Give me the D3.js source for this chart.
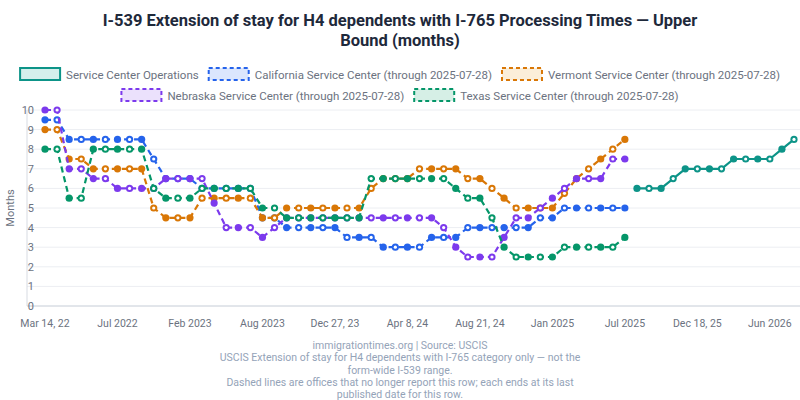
<!DOCTYPE html>
<html><head><meta charset="utf-8">
<script src="https://cdn.jsdelivr.net/npm/d3@7"></script>
<style>body{margin:0;background:#fff;font-family:Roboto,"Liberation Sans",sans-serif}</style>
</head><body><svg id="c" width="800" height="400"></svg>
<script>
const N = 63;
const tickIdx = [0,6,12,18,24,30,36,42,48,54,60];
const tickLabels = ["Mar 14, 22","Jul 2022","Feb 2023","Aug 2023","Dec 27, 23","Apr 8, 24","Aug 21, 24","Jan 2025","Jul 2025","Dec 18, 25","Jun 2026"];
const california = [9.5,9.5,8.5,8.5,8.5,8.5,8.5,8.5,8.5,7.5,6.5,6.5,6.5,6,6,6,6,6,4.5,4.5,4,4,4,4,4,3.5,3.5,3.5,3,3,3,3,3.5,3.5,3.5,4,4,4,4,4,4,4.5,4.5,5,5,5,5,5,5];
const vermont = [9,9,7.5,7.5,7,7,7,7,7,5,4.5,4.5,4.5,5.5,5.5,5.5,5.5,5.5,4.5,4.5,5,5,5,5,5,5,5,6,6.5,6.5,6.5,7,7,7,7,6.5,6.5,6,5.5,5,5,5,5,5.75,6.5,7,7.5,8,8.5];
const nebraska = [10,10,7,7,6.5,6.5,6,6,6,6,6.5,6.5,6.5,6.5,5.25,4,4,4,3.5,4,4.5,4.5,4.5,4.5,4.5,4.5,4.5,4.5,4.5,4.5,4.5,4.5,4.5,4,3,2.5,2.5,2.5,3.5,4.5,4.5,5,5.5,6,6.5,6.5,6.5,7.5,7.5];
const texas = [8,8,5.5,5.5,8,8,8,8,8,6,5.5,5.5,5.5,6,6,6,6,6,5,5,4.5,4.5,4.5,4.5,4.5,4.5,4.5,6.5,6.5,6.5,6.5,6.5,6.5,6.5,6,5.5,5.5,4.5,3,2.5,2.5,2.5,2.5,3,3,3,3,3,3.5];
const serviceCenter = [6,6,6,6.5,7,7,7,7,7.5,7.5,7.5,7.5,8,8.5];
const scStart = 49;
const yTicks = [0,1,2,3,4,5,6,7,8,9,10];

const series = [
 {name:"Service Center Operations", color:"#0d9488", fill:"#d5efec", dashed:false, start:scStart, values:serviceCenter},
 {name:"California Service Center (through 2025-07-28)", color:"#2563eb", fill:"#dbe6fd", dashed:true, start:0, values:california},
 {name:"Vermont Service Center (through 2025-07-28)", color:"#d97706", fill:"#fbeed9", dashed:true, start:0, values:vermont},
 {name:"Nebraska Service Center (through 2025-07-28)", color:"#7c3aed", fill:"#ebe1fc", dashed:true, start:0, values:nebraska},
 {name:"Texas Service Center (through 2025-07-28)", color:"#059669", fill:"#d6efe6", dashed:true, start:0, values:texas}
];

const svg = d3.select("#c");
const x = d3.scalePoint().domain(d3.range(N)).range([45,794]);
const y = d3.scaleLinear().domain([0,10]).range([306,110]);

svg.append("text").attr("x",400).attr("y",26).attr("text-anchor","middle").attr("font-size",16.5).attr("font-weight","bold").attr("fill","#1e293b").text("I-539 Extension of stay for H4 dependents with I-765 Processing Times — Upper");
svg.append("text").attr("x",400).attr("y",46).attr("text-anchor","middle").attr("font-size",16.5).attr("font-weight","bold").attr("fill","#1e293b").text("Bound (months)");

// legend
const rows = [[0,1,2],[3,4]];
const rowY = [74,95];
rows.forEach((r,ri)=>{
  const g = svg.append("g");
  let cx = 0;
  r.forEach(i=>{
    const s = series[i];
    const it = g.append("g").attr("transform",`translate(${cx},0)`);
    it.append("rect").attr("x",0).attr("y",-6).attr("width",40).attr("height",12).attr("fill",s.fill).attr("stroke",s.color).attr("stroke-width",2).attr("stroke-dasharray",s.dashed?"4,3":null);
    const t = it.append("text").attr("x",46).attr("y",4.5).attr("font-size",11.5).attr("fill","#6b7280").text(s.name);
    cx += 46 + t.node().getComputedTextLength() + 10;
  });
  const w = cx - 10;
  g.attr("transform",`translate(${400-w/2},${rowY[ri]})`);
});

// grid
svg.append("g").selectAll("line").data(yTicks).join("line")
  .attr("x1",27).attr("x2",800).attr("y1",d=>y(d)).attr("y2",d=>y(d)).attr("stroke","#eceef2");
svg.append("line").attr("x1",27).attr("x2",27).attr("y1",110).attr("y2",306).attr("stroke","#d7dbe2");
svg.append("line").attr("x1",27).attr("x2",800).attr("y1",306).attr("y2",306).attr("stroke","#cfd4dc");
svg.append("g").selectAll("text").data(yTicks).join("text")
  .attr("x",34).attr("y",d=>y(d)+4).attr("text-anchor","end").attr("font-size",11).attr("fill","#6b7280").text(d=>d);
svg.append("g").selectAll("text").data(tickIdx).join("text")
  .attr("x",d=>x(d)).attr("y",327).attr("text-anchor","middle").attr("font-size",10.5).attr("fill","#6b7280").text((d,i)=>tickLabels[i]);
svg.append("text").attr("transform","translate(14,208) rotate(-90)").attr("text-anchor","middle").attr("font-size",11).attr("fill","#6b7280").text("Months");

const line = d3.line().x(d=>x(d.i)).y(d=>y(d.v));
[1,2,3,4,0].forEach(k=>{
  const s = series[k];
  const pts = s.values.map((v,j)=>({i:s.start+j,v}));
  svg.append("path").datum(pts).attr("d",line).attr("fill","none").attr("stroke",s.color).attr("stroke-width",2.2).attr("stroke-dasharray",s.dashed?"6,4":null);
  svg.append("g").selectAll("circle").data(pts).join("circle").attr("cx",d=>x(d.i)).attr("cy",d=>y(d.v)).attr("r",3.6).attr("fill",s.color);
  svg.append("g").selectAll("circle").data(pts.filter((d,j)=>j%2==1)).join("circle").attr("cx",d=>x(d.i)).attr("cy",d=>y(d.v)).attr("r",1.6).attr("fill","#fff");
});

const foot = ["immigrationtimes.org | Source: USCIS","USCIS Extension of stay for H4 dependents with I-765 category only — not the","form-wide I-539 range.","Dashed lines are offices that no longer report this row; each ends at its last","published date for this row."];
svg.append("g").selectAll("text").data(foot).join("text").attr("x",400).attr("y",(d,i)=>349+i*12.3).attr("text-anchor","middle").attr("font-size",10.5).attr("fill","#94a3b8").text(d=>d);
</script></body></html>
